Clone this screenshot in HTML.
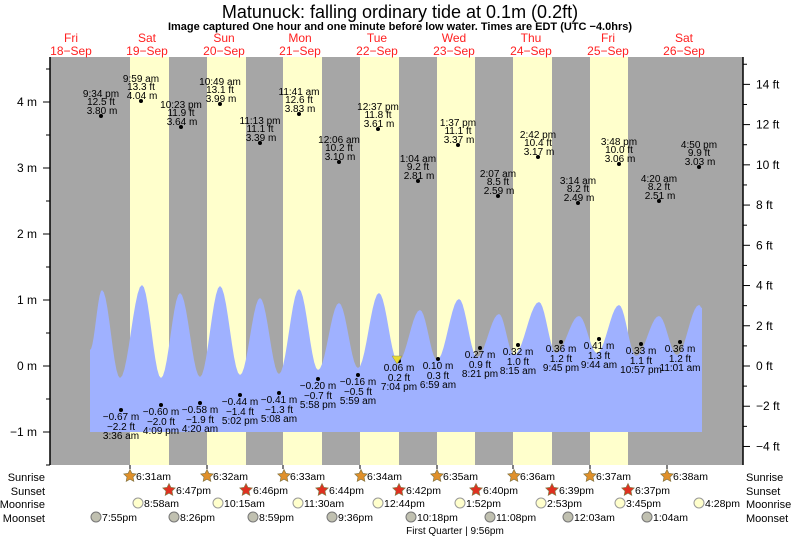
<!DOCTYPE html>
<html><head><meta charset="utf-8"><style>
body{margin:0;background:#fff;}
svg{display:block;font-family:"Liberation Sans",sans-serif;}
</style></head><body>
<svg id="s" width="793" height="539" viewBox="0 0 793 539" xmlns="http://www.w3.org/2000/svg">
<rect x="0" y="0" width="793" height="539" fill="#fff"/>
<rect x="50" y="57" width="693" height="408" fill="#a6a6a6"/>
<g fill="#ffffcc">
<rect x="130" y="57" width="39" height="408"/><rect x="207" y="57" width="39" height="408"/>
<rect x="283" y="57" width="39" height="408"/><rect x="360" y="57" width="39" height="408"/>
<rect x="437" y="57" width="38" height="408"/><rect x="513" y="57" width="39" height="408"/>
<rect x="590" y="57" width="38" height="408"/>
</g>
<path id="tide" fill="#9fb1ff" d=""/>
<g id="lab" font-size="10" fill="#000" text-anchor="middle"></g>
<polygon points="392,356 402,356 397,364" fill="#e8d830" stroke="#886" stroke-width="0.5"/>
<line x1="50" y1="57" x2="50" y2="465" stroke="#000" stroke-width="1.5"/>
<line x1="743" y1="57" x2="743" y2="465" stroke="#000" stroke-width="1.5"/>
<g id="ax" font-size="12" fill="#000"></g>
<text x="400" y="18" font-size="18" text-anchor="middle">Matunuck: falling  ordinary tide at 0.1m (0.2ft)</text>
<text x="400" y="30" font-size="11" font-weight="bold" text-anchor="middle">Image captured One hour and one minute before low water. Times are EDT (UTC −4.0hrs)</text>
<g font-size="12" fill="#ff2020" text-anchor="middle">
<text x="71" y="42">Fri</text><text x="71" y="55">18−Sep</text>
<text x="147" y="42">Sat</text><text x="147" y="55">19−Sep</text>
<text x="224" y="42">Sun</text><text x="224" y="55">20−Sep</text>
<text x="300" y="42">Mon</text><text x="300" y="55">21−Sep</text>
<text x="377" y="42">Tue</text><text x="377" y="55">22−Sep</text>
<text x="454" y="42">Wed</text><text x="454" y="55">23−Sep</text>
<text x="531" y="42">Thu</text><text x="531" y="55">24−Sep</text>
<text x="608" y="42">Fri</text><text x="608" y="55">25−Sep</text>
<text x="684" y="42">Sat</text><text x="684" y="55">26−Sep</text>
</g>
<g font-size="11" fill="#000">
<text x="45" y="481" text-anchor="end">Sunrise</text><text x="45" y="495" text-anchor="end">Sunset</text>
<text x="45" y="508" text-anchor="end">Moonrise</text><text x="45" y="522" text-anchor="end">Moonset</text>
<text x="746" y="481">Sunrise</text><text x="746" y="495">Sunset</text>
<text x="746" y="508">Moonrise</text><text x="746" y="522">Moonset</text>
</g>
<g id="bot" font-size="10.5" fill="#000"></g>
<text x="455" y="534" font-size="10" text-anchor="middle">First Quarter | 9:56pm</text>
</svg>
<script>
const NS="http://www.w3.org/2000/svg";
function el(p,t,a,txt){const e=document.createElementNS(NS,t);for(const k in a)e.setAttribute(k,a[k]);if(txt!==undefined)e.textContent=txt;p.appendChild(e);return e;}
const ext=[[90,350],[102,290],[120,378],[142,285],[161,378],[180,293],[200,377],[220,286],[240,375],[260,298],[279,374],[299,289],[318,370],[339,303],[358,368],[379,293],[398,362],[420,310],[437,360],[459,299],[477,357],[499,314],[514,355],[539,302],[556,353],[579,316],[597,353],[619,305],[636,356],[659,316],[677,355],[699,305],[702,308]];
let d="M90,432 L90,350";
for(let i=0;i<ext.length-1;i++){const [x0,y0]=ext[i],[x1,y1]=ext[i+1];for(let k=1;k<=10;k++){const t=k/10;const x=x0+(x1-x0)*t;const y=y0+(y1-y0)*(1-Math.cos(Math.PI*t))/2;d+=" L"+x.toFixed(1)+","+y.toFixed(1);}}
d+=" L702,432 Z";document.getElementById("tide").setAttribute("d",d);
const lab=document.getElementById("lab");
const hi=[[101,116,"9:34 pm","12.5 ft","3.80 m"],[141,101,"9:59 am","13.3 ft","4.04 m"],[181,127,"10:23 pm","11.9 ft","3.64 m"],[220,104,"10:49 am","13.1 ft","3.99 m"],[260,143,"11:13 pm","11.1 ft","3.39 m"],[299,114,"11:41 am","12.6 ft","3.83 m"],[339,162,"12:06 am","10.2 ft","3.10 m"],[378,129,"12:37 pm","11.8 ft","3.61 m"],[418,181,"1:04 am","9.2 ft","2.81 m"],[458,145,"1:37 pm","11.1 ft","3.37 m"],[498,196,"2:07 am","8.5 ft","2.59 m"],[538,157,"2:42 pm","10.4 ft","3.17 m"],[578,203,"3:14 am","8.2 ft","2.49 m"],[619,164,"3:48 pm","10.0 ft","3.06 m"],[659,201,"4:20 am","8.2 ft","2.51 m"],[699,167,"4:50 pm","9.9 ft","3.03 m"]];
hi.forEach(h=>{el(lab,"circle",{cx:h[0],cy:h[1],r:2});el(lab,"text",{x:h[0],y:h[1]-19},h[2]);el(lab,"text",{x:h[0],y:h[1]-11},h[3]);el(lab,"text",{x:h[0]+1,y:h[1]-2},h[4]);});
const lo=[[121,410,"−0.67 m","−2.2 ft","3:36 am"],[161,405,"−0.60 m","−2.0 ft","4:09 pm"],[200,403,"−0.58 m","−1.9 ft","4:20 am"],[240,395,"−0.44 m","−1.4 ft","5:02 pm"],[279,393,"−0.41 m","−1.3 ft","5:08 am"],[318,379,"−0.20 m","−0.7 ft","5:58 pm"],[358,375,"−0.16 m","−0.5 ft","5:59 am"],[399,361,"0.06 m","0.2 ft","7:04 pm"],[438,359,"0.10 m","0.3 ft","6:59 am"],[480,348,"0.27 m","0.9 ft","8:21 pm"],[518,345,"0.32 m","1.0 ft","8:15 am"],[561,342,"0.36 m","1.2 ft","9:45 pm"],[599,339,"0.41 m","1.3 ft","9:44 am"],[641,344,"0.33 m","1.1 ft","10:57 pm"],[680,342,"0.36 m","1.2 ft","11:01 am"]];
lo.forEach(h=>{el(lab,"circle",{cx:h[0],cy:h[1],r:2});el(lab,"text",{x:h[0],y:h[1]+10},h[2]);el(lab,"text",{x:h[0],y:h[1]+20},h[3]);el(lab,"text",{x:h[0],y:h[1]+29},h[4]);});
const ax=document.getElementById("ax");
[4,3,2,1,0,-1].forEach(m=>{const y=366-66*m;el(ax,"line",{x1:43,y1:y,x2:50,y2:y,stroke:"#000"});el(ax,"text",{x:37,y:y+4,"text-anchor":"end"},(m<0?"−"+(-m):m)+" m");});
for(let m=-1.5;m<=4.6;m+=0.5){const y=366-66*m;el(ax,"line",{x1:46,y1:y,x2:50,y2:y,stroke:"#000"});}
for(let f=-5;f<=15;f++){const y=366-66*0.3048*f;if(y<57||y>465)continue;const big=f%2==0;el(ax,"line",{x1:743,y1:y,x2:big?750:747,y2:y,stroke:"#000"});if(big)el(ax,"text",{x:756,y:y+4},(f<0?"−"+(-f):f)+" ft");}
[130,207,283,360,437,513,590,667].forEach(x=>el(ax,"line",{x1:x,y1:465,x2:x,y2:469,stroke:"#000"}));
const bot=document.getElementById("bot");
function star(x,y,fill){let p="";for(let i=0;i<10;i++){const r=i%2?3.2:6.5;const a=-Math.PI/2+i*Math.PI/5;p+=(x+r*Math.cos(a)).toFixed(1)+","+(y+r*Math.sin(a)).toFixed(1)+" ";}el(bot,"polygon",{points:p,fill:fill,stroke:"#887744","stroke-width":0.7});}
const sr=[[130,"6:31am"],[207,"6:32am"],[284,"6:33am"],[361,"6:34am"],[437,"6:35am"],[514,"6:36am"],[590,"6:37am"],[667,"6:38am"]];
sr.forEach(s=>{star(s[0],476,"#e0902a");el(bot,"text",{x:s[0]+6,y:480},s[1]);});
const ss=[[169,"6:47pm"],[246,"6:46pm"],[322,"6:44pm"],[399,"6:42pm"],[476,"6:40pm"],[552,"6:39pm"],[628,"6:37pm"]];
ss.forEach(s=>{star(s[0],490,"#e03020");el(bot,"text",{x:s[0]+7,y:494},s[1]);});
const mr=[[138,"8:58am"],[218,"10:15am"],[298,"11:30am"],[378,"12:44pm"],[460,"1:52pm"],[541,"2:53pm"],[620,"3:45pm"],[699,"4:28pm"]];
mr.forEach(s=>{el(bot,"circle",{cx:s[0],cy:503,r:5,fill:"#ffffcc",stroke:"#999"});el(bot,"text",{x:s[0]+6,y:507},s[1]);});
const ms=[[96,"7:55pm"],[174,"8:26pm"],[253,"8:59pm"],[332,"9:36pm"],[411,"10:18pm"],[490,"11:08pm"],[568,"12:03am"],[647,"1:04am"]];
ms.forEach(s=>{el(bot,"circle",{cx:s[0],cy:517,r:5,fill:"#c0c0b0",stroke:"#777"});el(bot,"text",{x:s[0]+6,y:521},s[1]);});
</script>
</body></html>
